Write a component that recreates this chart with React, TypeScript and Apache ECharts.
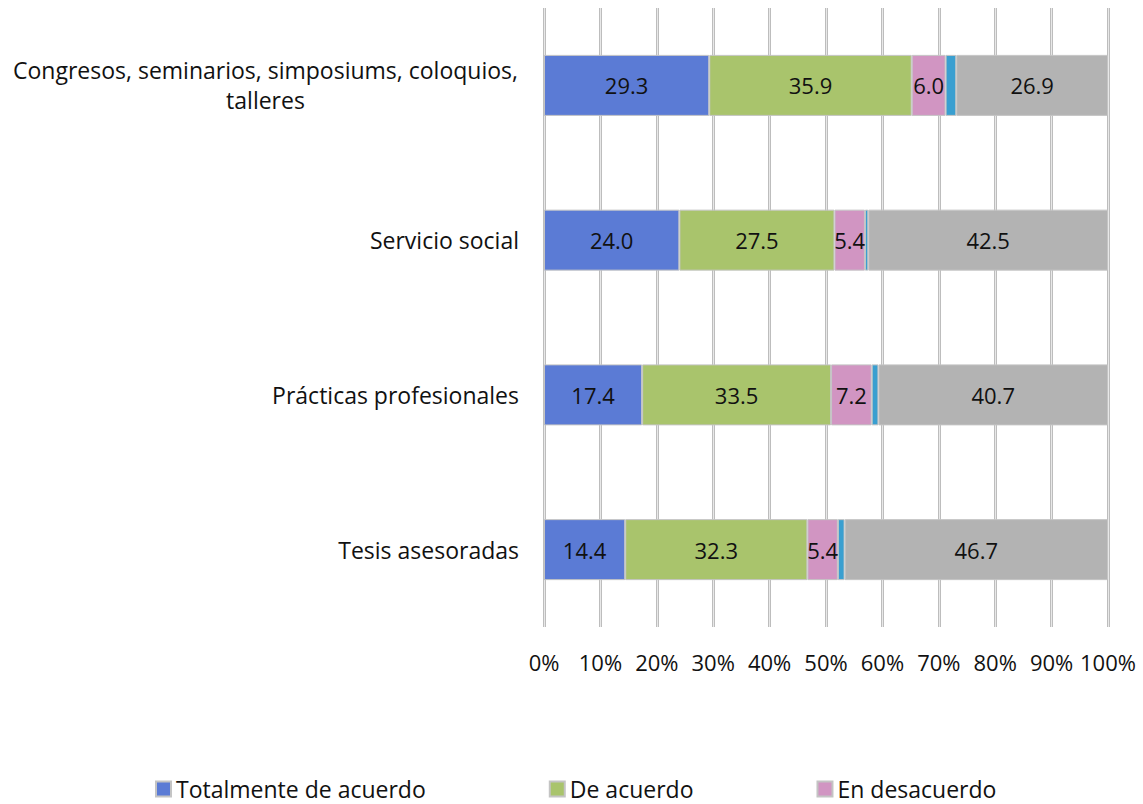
import React, { useEffect, useRef } from "react";
import * as echarts from "echarts";

const categories = [
  "Congresos, seminarios, simposiums, coloquios, talleres",
  "Servicio social",
  "Prácticas profesionales",
  "Tesis asesoradas",
];
const totalmenteDeAcuerdo = [29.3, 24.0, 17.4, 14.4];
const deAcuerdo = [35.9, 27.5, 33.5, 32.3];
const enDesacuerdo = [6.0, 5.4, 7.2, 5.4];
const totalmenteEnDesacuerdo = [1.9, 0.6, 1.2, 1.2];
const noAplica = [26.9, 42.5, 40.7, 46.7];
const xTicks = [0, 10, 20, 30, 40, 50, 60, 70, 80, 90, 100];

const FONT = "Open Sans";
const FS = 23;

export default function App() {
  const ref = useRef<HTMLDivElement>(null);
  useEffect(() => {
    if (!ref.current) return;
    const chart = echarts.init(ref.current, null, { renderer: "svg" });
    const canvas = document.createElement("canvas");
    const ctx = canvas.getContext("2d")!;
    ctx.font = `${FS}px "${FONT}"`;
    const line1 = "Congresos, seminarios, simposiums, coloquios,";
    const w1 = Math.ceil(ctx.measureText(line1).width) + 2;

    const labelStyle = {
      show: true,
      position: "inside",
      color: "#111",
      fontFamily: FONT,
      fontSize: 22,
      formatter: (p: any) => Number(p.value).toFixed(1),
    };
    const barBase = {
      type: "bar",
      stack: "total",
      barWidth: 61,
      itemStyle: { borderColor: "#c4c4c4", borderWidth: 1 },
    };
    chart.setOption({
      animation: false,
      textStyle: { fontFamily: FONT },
      grid: { left: 544, right: 35, top: 8, bottom: 177, containLabel: false },
      legend: {
        data: ["Totalmente de acuerdo", "De acuerdo", "En desacuerdo"],
        left: 155,
        top: 777,
        icon: "rect",
        itemWidth: 15,
        itemHeight: 15,
        itemGap: 123,
        padding: 0,
        textStyle: { fontFamily: FONT, fontSize: FS, color: "#111", lineHeight: 24 },
      },
      xAxis: [
        {
          type: "value",
          min: 0,
          max: 100,
          interval: 10,
          axisLine: { show: false },
          axisTick: { show: false },
          axisLabel: {
            formatter: "{value}%",
            fontFamily: FONT,
            fontSize: 22,
            color: "#111",
            margin: 24,
            customValues: xTicks,
          },
          splitLine: { show: true, lineStyle: { color: "#bdbdbd", width: 3 } },
        },
        {
          type: "value",
          min: 0,
          max: 100,
          interval: 10,
          position: "bottom",
          axisLine: { show: false },
          axisTick: { show: false },
          axisLabel: { show: false },
          splitLine: { show: true, lineStyle: { color: "#e8e8e8", width: 1 } },
        },
      ],
      yAxis: {
        type: "category",
        inverse: true,
        data: categories,
        axisLine: { show: false },
        axisTick: { show: false },
        axisLabel: {
          margin: 25,
          fontFamily: FONT,
          fontSize: FS,
          color: "#111",
          lineHeight: 30,
          formatter: (v: string) => {
            if (v.startsWith("Congresos")) {
              return `{c|${line1}}\n{c|talleres}`;
            }
            return v;
          },
          rich: {
            c: {
              width: w1,
              align: "center",
              fontFamily: FONT,
              fontSize: FS,
              color: "#111",
              lineHeight: 30,
            },
          },
        },
      },
      series: [
        { ...barBase, name: "Totalmente de acuerdo", data: totalmenteDeAcuerdo, itemStyle: { ...barBase.itemStyle, color: "#5b7bd5" }, label: labelStyle },
        { ...barBase, name: "De acuerdo", data: deAcuerdo, itemStyle: { ...barBase.itemStyle, color: "#a9c46c" }, label: labelStyle },
        { ...barBase, name: "En desacuerdo", data: enDesacuerdo, itemStyle: { ...barBase.itemStyle, color: "#d195c2" }, label: labelStyle },
        { ...barBase, name: "Totalmente en desacuerdo", data: totalmenteEnDesacuerdo, itemStyle: { ...barBase.itemStyle, color: "#3a9fd0" }, label: { show: false } },
        { ...barBase, name: "No aplica", data: noAplica, itemStyle: { ...barBase.itemStyle, color: "#b3b3b3" }, label: labelStyle },
      ],
    });
    return () => chart.dispose();
  }, []);
  return (
    <div
      ref={ref}
      style={{ position: "absolute", left: 0, top: 0, width: 1143, height: 804 }}
    />
  );
}
